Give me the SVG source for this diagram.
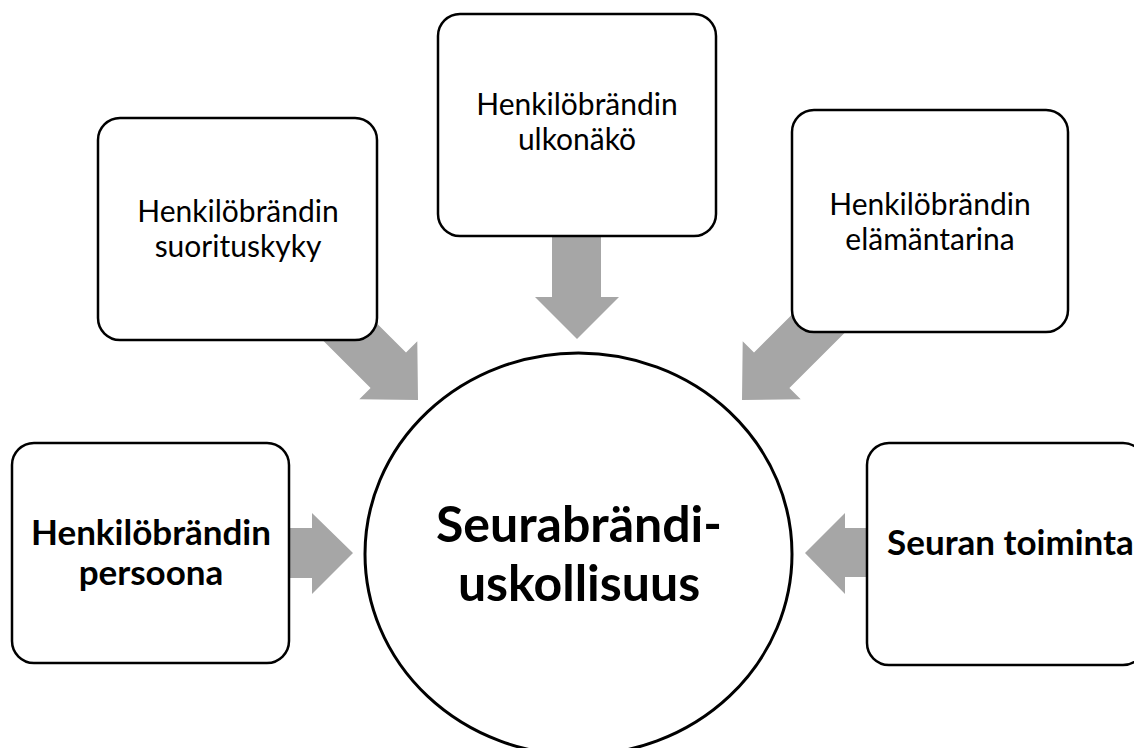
<svg xmlns="http://www.w3.org/2000/svg" width="1134" height="748" viewBox="0 0 1134 748">
  <style>
    .arrow { fill: #a6a6a6; }
    .box { fill: #ffffff; stroke: #000000; stroke-width: 2.5; }
    .hub { fill: #ffffff; stroke: #000000; stroke-width: 3; }
    .lbl { font-family: Lato, "Open Sans", sans-serif; fill: #000000; text-anchor: middle; }
    .reg { font-size: 30px; font-weight: 400; }
    .bold { font-size: 35px; font-weight: 700; }
    .big { font-size: 50px; font-weight: 700; }
  </style>

  <!-- block arrows pointing into the central circle (drawn first so boxes cover their tails) -->
  <g id="connectors">
    <!-- from top box, straight down -->
    <polygon class="arrow" points="552,225 601,225 601,297 619,297 577,339 535,297 552,297"/>
    <!-- from top-left box, diagonal down-right -->
    <polygon class="arrow" points="345.9,292.5 406,352.6 417.3,341.3 418,400 359.3,399.3 370.6,388 310.5,327.9"/>
    <!-- from top-right box, diagonal down-left -->
    <polygon class="arrow" points="814.1,292.5 754,352.6 742.7,341.3 742,400 800.7,399.3 789.4,388 849.5,327.9"/>
    <!-- from left box, pointing right -->
    <polygon class="arrow" points="280,528 312,528 312,513 353,553 312,594 312,578 280,578"/>
    <!-- from right box, pointing left -->
    <polygon class="arrow" points="877,528 845,528 845,513 805,553 845,594 845,577 877,577"/>
  </g>

  <g id="hub">
    <ellipse class="hub" cx="578.5" cy="554" rx="213.5" ry="201"/>
    <text class="lbl big" x="579" y="542">Seurabrändi-</text>
    <text class="lbl big" x="579" y="601">uskollisuus</text>
  </g>

  <g id="node-suorituskyky">
    <rect class="box" x="98" y="118" width="279" height="222" rx="22"/>
    <text class="lbl reg" x="238" y="222">Henkilöbrändin</text>
    <text class="lbl reg" x="238" y="257">suorituskyky</text>
  </g>

  <g id="node-ulkonako">
    <rect class="box" x="438" y="14" width="278" height="222" rx="22"/>
    <text class="lbl reg" x="577" y="115">Henkilöbrändin</text>
    <text class="lbl reg" x="577" y="150">ulkonäkö</text>
  </g>

  <g id="node-elamantarina">
    <rect class="box" x="792" y="110" width="276" height="222" rx="22"/>
    <text class="lbl reg" x="930" y="215">Henkilöbrändin</text>
    <text class="lbl reg" x="930" y="250">elämäntarina</text>
  </g>

  <g id="node-persoona">
    <rect class="box" x="12" y="443" width="277" height="220" rx="22"/>
    <text class="lbl bold" x="151" y="545">Henkilöbrändin</text>
    <text class="lbl bold" x="151" y="585">persoona</text>
  </g>

  <g id="node-seuran-toiminta">
    <rect class="box" x="867" y="443" width="278" height="222" rx="22"/>
    <text class="lbl bold" x="1010.5" y="555" font-size="34">Seuran toiminta</text>
  </g>
</svg>
